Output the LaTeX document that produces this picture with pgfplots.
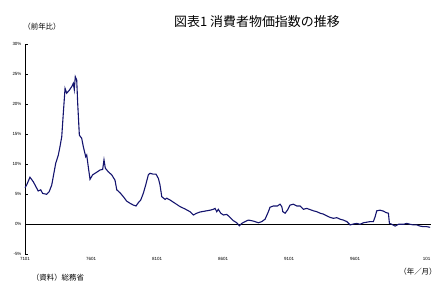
\documentclass[border=0pt]{standalone}
\usepackage{pgfplots}
\pgfplotsset{compat=1.18}
\usepackage{fontspec}
\setmainfont{Liberation Sans}
\newfontfamily\jp{Noto Sans CJK JP}
\definecolor{navyline}{RGB}{20,20,110}
\begin{document}
\begin{tikzpicture}
\path[use as bounding box] (0,0) rectangle (443bp,288bp);
\begin{axis}[
  at={(25bp,34bp)}, anchor=south west, scale only axis,
  width=406bp, height=210bp,
  xmin=0, xmax=369, ymin=-5, ymax=30,
  axis lines*=left,
  x axis line style={draw=none},
  y axis line style={black, line width=0.8bp},
  xtick={0,60,120,180,240,300,365},
  xticklabels={7101,7601,8101,8601,9101,9601,101},
  xtick style={draw=none},
  ytick={-5,0,5,10,15,20,25,30},
  ytick style={black, line width=0.6bp},
  tick align=inside, major tick length=3bp,
  /pgf/number format/assume math mode=true,
  yticklabel={\pgfmathprintnumber{\tick}\%},
  ticklabel style={font=\fontsize{4.5}{5}\selectfont},
  clip=false,
]
\addplot[black, line width=0.9bp] coordinates {(0,0) (369,0)};
\addplot[navyline, line width=1.1bp] coordinates {
(0,6.05) (1.5,6.5) (4.5,7.8) (7.5,7.05) (10,6.2) (12,5.5) (14.3,5.7) (16,5.1)
(19.7,4.95) (22,5.4) (24.3,6.5) (25.7,7.9) (27.9,10.1) (30.3,11.5) (31.8,12.9)
(33.4,14.55) (34.8,18.4) (36.4,22.6) (37.9,21.8) (40.3,22.3) (42.5,22.9)
(43.9,23.45) (44.8,22.4) (45.7,24.55) (47,24.0) (47.9,20.1) (49.4,14.8)
(51.5,14.3) (53,12.9) (55.2,11.2) (56.1,11.5) (57.5,9.55) (59.1,7.45)
(61.5,8.2) (64.5,8.55) (68.2,9.0) (70.6,9.1) (71.8,10.7) (73,9.3) (75.7,8.7)
(78.8,8.2) (81.8,7.3) (83.4,5.7) (86.4,5.2) (89.4,4.55) (92.5,3.8) (95.5,3.45)
(98.5,3.15) (100.9,3.0) (103,3.55) (105.2,4.0) (107.5,5.1) (109.7,6.5)
(112.1,8.2) (113.6,8.45) (116.6,8.3) (119.1,8.3) (121.2,7.6) (122.7,6.5)
(124.3,4.55) (127.3,4.1) (128.8,4.3) (131.8,4.0) (136.4,3.45) (140.9,2.9)
(145.5,2.5) (150,2.05) (153,1.5) (156.1,1.8) (159.1,2.0) (163.6,2.15)
(168.2,2.3) (171.2,2.45) (172.7,2.6) (174.3,2.05) (175.7,2.45) (177.9,1.8)
(180.3,1.5) (183.4,1.6) (186.4,1.1) (189.4,0.55) (192.5,0.2) (194.8,-0.3)
(197,0.1) (200,0.4) (203,0.65) (206.1,0.55) (209.1,0.4) (212.1,0.2)
(215.2,0.4) (218.2,0.8) (221.2,2.05) (222.7,2.8) (225.7,3.0) (229.4,3.0)
(231.8,3.3) (233.4,2.9) (234.3,2.05) (236.4,1.8) (238.5,2.3) (240.9,3.15)
(243.9,3.3) (247,3.0) (250,3.0) (253,2.45) (256.1,2.6) (259.1,2.4)
(262.1,2.2) (265.2,2.05) (268.2,1.8) (271.2,1.65) (274.3,1.35) (277.3,1.1)
(280.3,0.95) (283.4,1.05) (286.4,0.8) (289.4,0.65) (292.5,0.4) (295.5,-0.15)
(298.5,0.0) (301.5,0.1) (304.5,-0.05) (307.5,0.2) (310.6,0.3) (313.6,0.4)
(316.6,0.4) (318.2,1.2) (319.7,2.2) (322.7,2.3) (325.7,2.15) (328.2,1.9)
(330.3,1.8) (331.2,0.1) (333.4,-0.05) (336.4,-0.35) (339.4,-0.05)
(343.9,-0.05) (347,0.1) (350,-0.05) (353,-0.15) (356.1,-0.15) (359.1,-0.35)
(362.1,-0.45) (365.2,-0.45) (368.2,-0.55)
};
\end{axis}
\node[font=\jp\fontsize{13}{15}\selectfont] at (257bp,266bp) {図表1 消費者物価指数の推移};
\node[font=\jp\fontsize{7.5}{9}\selectfont] at (42bp,261bp) {（前年比）};
\node[font=\jp\fontsize{7.5}{9}\selectfont] at (58bp,10bp) {（資料）総務省};
\node[font=\jp\fontsize{7.5}{9}\selectfont] at (418bp,16bp) {（年／月）};
\end{tikzpicture}
\end{document}
